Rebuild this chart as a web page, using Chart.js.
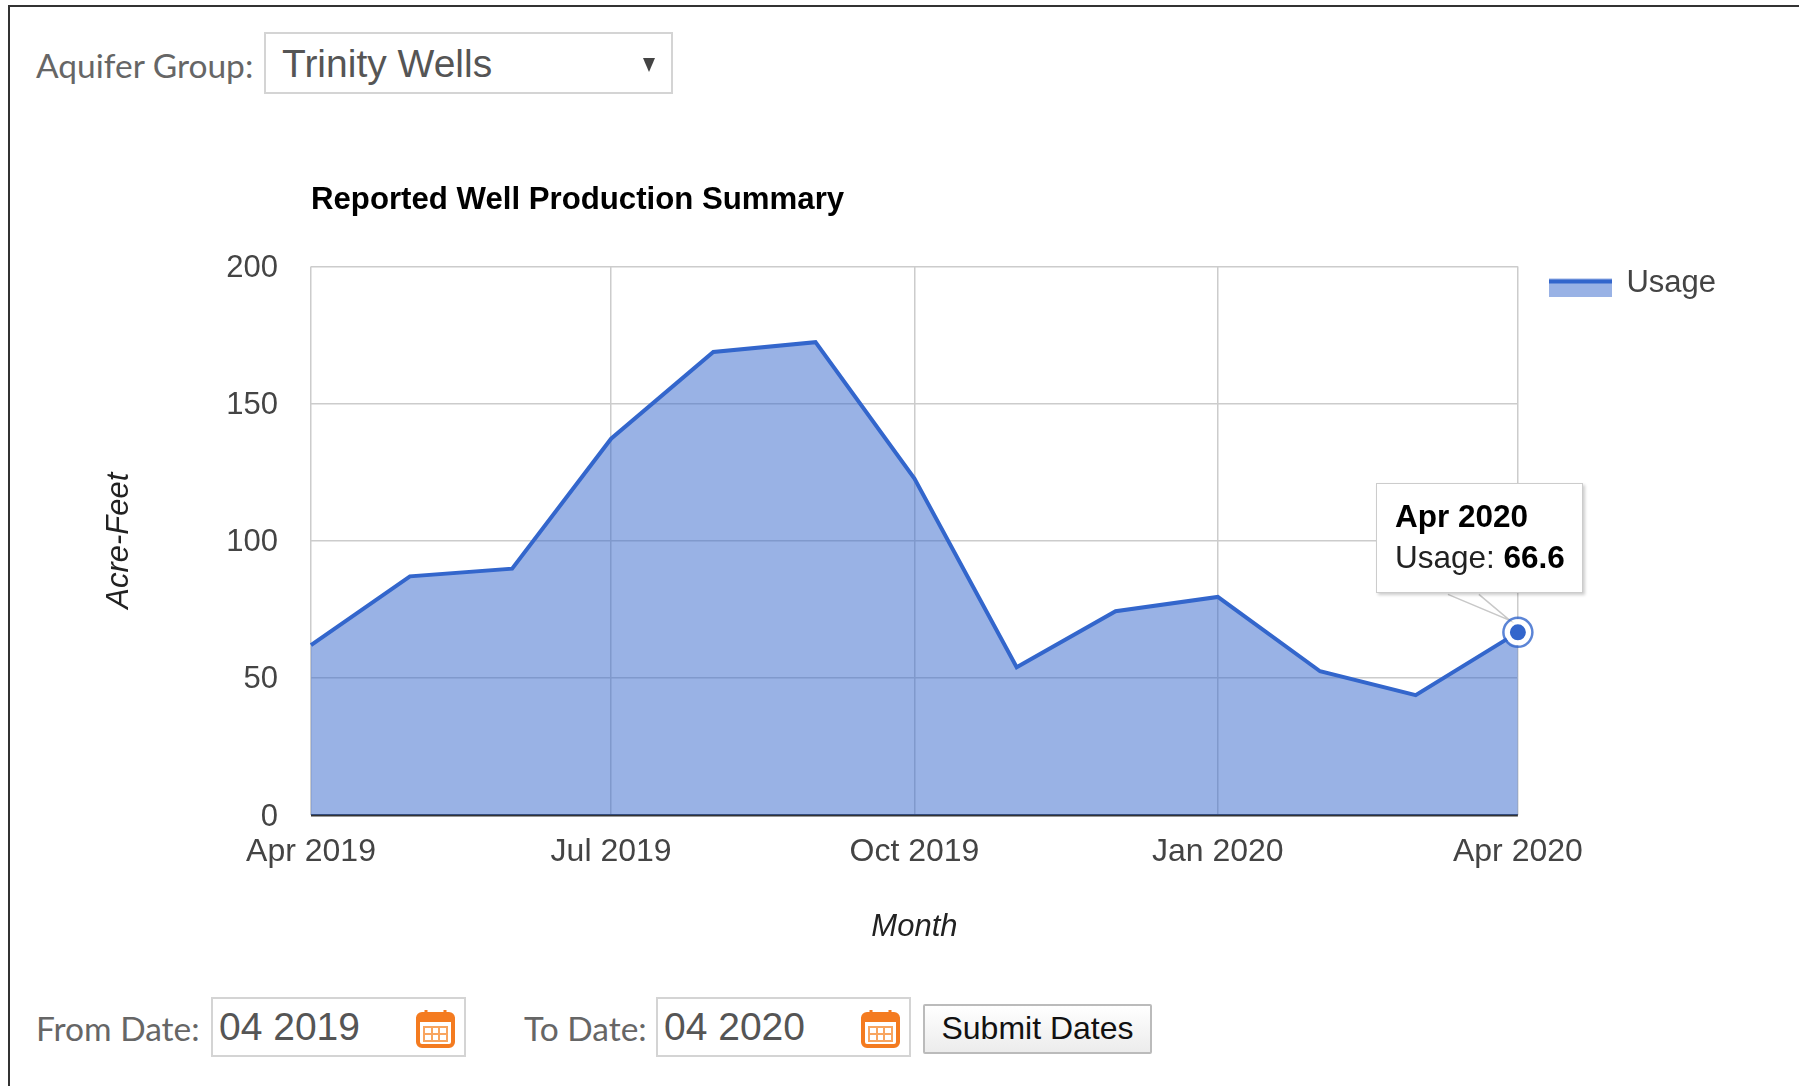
<!DOCTYPE html>
<html>
<head>
<meta charset="utf-8">
<title>Reported Well Production Summary</title>
<script src="https://cdn.jsdelivr.net/npm/chart.js@4/dist/chart.umd.min.js"></script>
<style>
html,body{margin:0;padding:0;background:#fff;overflow:hidden}
body{width:1799px;height:1086px;position:relative;font-family:"Liberation Sans",Arial,sans-serif}
#frame{position:absolute;left:8px;top:5px;width:1800px;height:1100px;border:2px solid #333}
#chartBox{position:absolute;left:0;top:110px;width:1799px;height:860px}
.lbl{position:absolute;font-family:Lato,sans-serif;font-size:33.5px;color:#666;line-height:40px}
.field{position:absolute;box-sizing:border-box;border:2px solid #d4d4d4;background:#fff;color:#555;font-size:39px;line-height:50px;white-space:nowrap}
.cal{position:absolute;top:10px;width:39px;height:39px}
#arrow{position:absolute;left:377px;top:24px;width:0;height:0;border-left:6px solid transparent;border-right:6px solid transparent;border-top:14px solid #444}
#submit{position:absolute;left:923px;top:1004px;width:229px;height:50px;box-sizing:border-box;border:2px solid #bbb;border-radius:2px;background:linear-gradient(#fff,#ececec);font-size:32px;line-height:44px;text-align:center;color:#111}
#tip{position:absolute;box-sizing:border-box;width:207px;height:110px;background:#fff;border:1px solid #ccc;box-shadow:2px 2px 3px rgba(0,0,0,.2);padding:12px 0 0 18px;font-size:31.5px;line-height:41px;color:#222;white-space:nowrap;display:none}
#tip b{color:#000}
</style>
</head>
<body>
<div id="frame"></div>
<div id="chartBox"><canvas id="chart"></canvas></div>
<div class="lbl" style="left:36px;top:45px">Aquifer Group:</div>
<div class="field" style="left:264px;top:32px;width:409px;height:62px;padding:5px 0 0 16px">Trinity Wells<div id="arrow"></div></div>
<div class="lbl" style="left:36px;top:1008px">From Date:</div>
<div class="field" style="left:211px;top:997px;width:255px;height:60px;padding:3px 0 0 6px">04 2019
  <svg class="cal" style="left:203px" viewBox="0 0 39 39"><rect x="2" y="5" width="35" height="32" rx="4" fill="#fff" stroke="#f47b20" stroke-width="4"/><rect x="2" y="5" width="35" height="8" fill="#f47b20"/><path d="M10 1v8M29 1v8" stroke="#f47b20" stroke-width="3"/><path d="M8 18h23v14H8zM8 25h23M16 18v14M23 18v14" fill="none" stroke="#f8a560" stroke-width="2"/></svg>
</div>
<div class="lbl" style="left:524px;top:1008px">To Date:</div>
<div class="field" style="left:656px;top:997px;width:255px;height:60px;padding:3px 0 0 6px">04 2020
  <svg class="cal" style="left:203px" viewBox="0 0 39 39"><rect x="2" y="5" width="35" height="32" rx="4" fill="#fff" stroke="#f47b20" stroke-width="4"/><rect x="2" y="5" width="35" height="8" fill="#f47b20"/><path d="M10 1v8M29 1v8" stroke="#f47b20" stroke-width="3"/><path d="M8 18h23v14H8zM8 25h23M16 18v14M23 18v14" fill="none" stroke="#f8a560" stroke-width="2"/></svg>
</div>
<div id="submit">Submit Dates</div>
<div id="tip"><b id="tipTitle"></b><br><span id="tipName"></span>: <b id="tipValue"></b></div>

<script>
const monthDates=["2019-04-01","2019-05-01","2019-06-01","2019-07-01","2019-08-01","2019-09-01","2019-10-01","2019-11-01","2019-12-01","2020-01-01","2020-02-01","2020-03-01","2020-04-01"];
const monthNames=["Apr 2019","May 2019","Jun 2019","Jul 2019","Aug 2019","Sep 2019","Oct 2019","Nov 2019","Dec 2019","Jan 2020","Feb 2020","Mar 2020","Apr 2020"];
const usage=[61.9,87,89.8,137.2,168.8,172.4,122.7,53.9,74.3,79.5,52.4,43.7,66.6];
const tickDates=["2019-04-01","2019-07-01","2019-10-01","2020-01-01","2020-04-01"];
const tickLabels=["Apr 2019","Jul 2019","Oct 2019","Jan 2020","Apr 2020"];
const activeIndex=12;

const FONT="'Liberation Sans',Arial,sans-serif";
const BLUE="#3366cc";
const toX=d=>Date.parse(d);

// legend swatch: solid line over the area colour, sits low in its image
const swatch=document.createElement("canvas");
swatch.width=63;swatch.height=27;
const sw=swatch.getContext("2d");
sw.fillStyle="rgba(51,102,204,0.5)";sw.fillRect(0,8,63,19);
sw.fillStyle=BLUE;sw.fillRect(0,9,63,4);

const tipPlugin={
  id:"tipPlugin",
  afterLayout(chart){chart.legend.top-=30;chart.legend.bottom-=30;},
  afterDraw(chart){
    const a=chart.getActiveElements()[0];
    if(!a)return;
    const {x,y}=a.element;
    const c=chart.ctx;
    c.save();
    // tail of the tooltip
    c.beginPath();
    c.moveTo(x-70,y-38);c.lineTo(x-8,y-12);c.lineTo(x-39,y-38);
    c.fillStyle="#fff";c.fill();
    c.strokeStyle="#c8c8c8";c.lineWidth=1.5;c.stroke();
    // ring round the point
    c.beginPath();c.arc(x,y,14.5,0,Math.PI*2);
    c.strokeStyle="rgba(51,102,204,0.8)";c.lineWidth=2.5;c.stroke();
    c.restore();
  }
};

function showTip(ctx){
  const t=ctx.tooltip,el=document.getElementById("tip");
  if(!t.opacity){el.style.display="none";return;}
  const i=t.dataPoints[0].dataIndex;
  document.getElementById("tipTitle").textContent=monthNames[i];
  document.getElementById("tipName").textContent=t.dataPoints[0].dataset.label;
  document.getElementById("tipValue").textContent=usage[i];
  el.style.display="block";
  el.style.left=(t.caretX-142)+"px";
  el.style.top=(110+t.caretY-149)+"px";
}

const chart=new Chart(document.getElementById("chart"),{
  type:"line",
  data:{datasets:[{
    label:"Usage",
    data:monthDates.map((d,i)=>({x:toX(d),y:usage[i]})),
    borderColor:BLUE,
    borderWidth:4,
    backgroundColor:"rgba(51,102,204,0.5)",
    fill:"origin",
    tension:0,
    clip:false,
    pointRadius:0,
    pointHoverRadius:10.5,
    pointBackgroundColor:BLUE,
    pointHoverBackgroundColor:BLUE,
    pointHoverBorderColor:"#fff",
    pointHoverBorderWidth:5
  }]},
  options:{
    responsive:false,
    animation:false,
    events:[],
    layout:{padding:{right:-6,top:0,left:0,bottom:0}},
    plugins:{
      title:{
        display:true,text:"Reported Well Production Summary",align:"start",fullSize:false,
        color:"#000",font:{family:FONT,size:31.2,weight:"bold",lineHeight:1.2},
        padding:{top:72,bottom:47}
      },
      legend:{
        position:"right",align:"start",fullSize:false,
        labels:{
          color:"#444",font:{family:FONT,size:31},padding:32,
          usePointStyle:true,pointStyleWidth:61,boxHeight:19,
          generateLabels:c=>[{text:c.data.datasets[0].label,pointStyle:swatch,datasetIndex:0,fontColor:"#444",lineWidth:0}]
        }
      },
      tooltip:{enabled:false,external:showTip,mode:"nearest",intersect:false}
    },
    scales:{
      x:{
        type:"linear",
        min:toX(tickDates[0]),max:toX(tickDates[tickDates.length-1]),
        afterBuildTicks:s=>{s.ticks=tickDates.map(d=>({value:toX(d)}));},
        afterFit:s=>{s.height=155;},
        grid:{color:"#ccc",lineWidth:1.5,drawTicks:false},
        border:{display:false},
        ticks:{
          autoSkip:false,maxRotation:0,padding:18,color:"#444",font:{family:FONT,size:32},
          callback:v=>tickLabels[tickDates.map(toX).indexOf(v)]
        },
        title:{display:true,text:"Month",color:"#222",font:{family:FONT,size:31,style:"italic"},padding:{top:7,bottom:24}}
      },
      y:{
        min:0,max:200,
        afterFit:s=>{s.width=311;},
        grid:{
          color:c=>c.tick.value===0?"#333":"#ccc",
          lineWidth:c=>c.tick.value===0?2.5:1.5,
          drawTicks:false
        },
        border:{display:false},
        ticks:{stepSize:50,padding:33,labelOffset:2,color:"#444",font:{family:FONT,size:31}},
        title:{display:true,text:"Acre-Feet",color:"#222",font:{family:FONT,size:31,style:"italic"},padding:{top:101,bottom:0}}
      }
    }
  },
  plugins:[tipPlugin]
});
chart.resize(1799,860);

const active=[{datasetIndex:0,index:activeIndex}];
chart.tooltip.setActiveElements(active,{x:0,y:0});
chart.setActiveElements(active);
chart.update();
</script>
</body>
</html>
